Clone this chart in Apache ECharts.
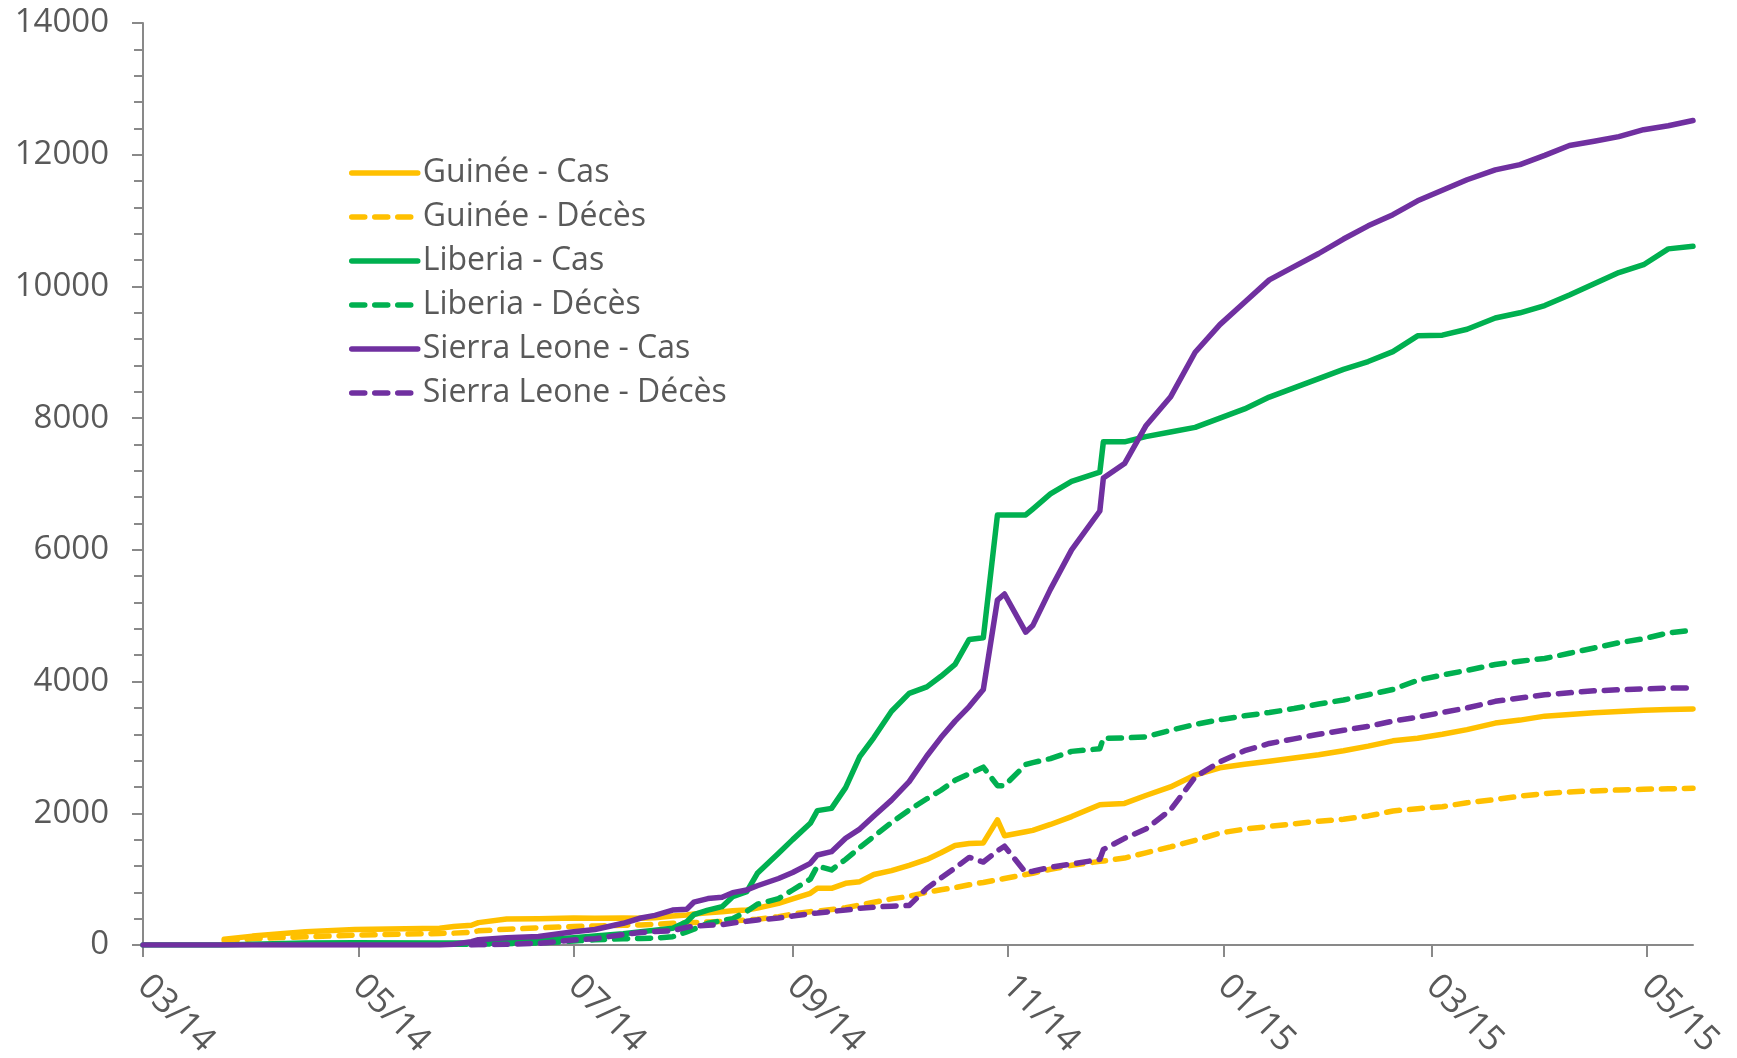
<!DOCTYPE html>
<html>
<head>
<meta charset="utf-8">
<script src="https://cdn.jsdelivr.net/npm/echarts@6/dist/echarts.min.js"></script>
<style>
html,body{margin:0;padding:0;background:#ffffff;}
#chart{width:1737px;height:1058px;}
</style>
</head>
<body>
<div id="chart"></div>
<script>
// ---- Data ----
const dates = [
 '2014-03-01','2014-03-24','2014-04-01','2014-04-16','2014-04-30','2014-05-24','2014-05-28','2014-06-02','2014-06-04','2014-06-12',
 '2014-06-21','2014-07-01','2014-07-07','2014-07-15','2014-07-20','2014-07-24','2014-07-29','2014-08-02','2014-08-04','2014-08-08',
 '2014-08-12','2014-08-15','2014-08-19','2014-08-22','2014-08-28','2014-09-01','2014-09-06','2014-09-08','2014-09-12','2014-09-16',
 '2014-09-20','2014-09-24','2014-09-29','2014-10-04','2014-10-09','2014-10-13','2014-10-17','2014-10-21','2014-10-25','2014-10-29',
 '2014-10-31','2014-11-06','2014-11-08','2014-11-13','2014-11-19','2014-11-27','2014-11-28','2014-12-04','2014-12-10','2014-12-17',
 '2014-12-24','2014-12-31','2015-01-07','2015-01-14','2015-01-21','2015-01-28','2015-02-04','2015-02-11','2015-02-18','2015-02-25',
 '2015-03-04','2015-03-11','2015-03-19','2015-03-26','2015-04-02','2015-04-09','2015-04-16','2015-04-23','2015-04-30','2015-05-07',
 '2015-05-14'
];

const guineeCas = [
 null,86,135,200,235,255,280,300,340,395,
 400,410,405,410,405,415,440,455,470,490,
 505,520,531,560,633,700,785,861,861,937,
 962,1070,1130,1210,1300,1400,1510,1540,1550,1900,
 1660,1720,1740,1830,1950,2130,2135,2150,2270,2400,
 2580,2690,2745,2790,2840,2890,2950,3020,3100,3140,
 3200,3270,3370,3415,3475,3500,3525,3545,3565,3575,
 3585
];

const guineeDeces = [
 null,60,95,125,150,175,180,195,215,240,
 260,280,290,300,305,315,329,335,340,350,
 360,370,380,390,430,470,506,515,540,565,
 607,650,700,740,800,840,870,915,950,990,
 1010,1070,1090,1150,1210,1270,1275,1320,1400,1490,
 1590,1700,1760,1800,1840,1880,1910,1960,2035,2070,
 2100,2160,2210,2260,2300,2325,2340,2355,2365,2372,
 2380
];

const liberiaCas = [
 0,0,10,30,35,30,30,35,40,50,
 76,110,137,170,202,225,255,354,460,530,
 582,733,810,1088,1392,1600,1848,2040,2075,2390,
 2860,3150,3550,3820,3920,4080,4260,4640,4665,6530,
 6530,6530,6620,6850,7040,7180,7640,7640,7720,7790,
 7860,8000,8140,8320,8460,8600,8740,8860,9010,9250,
 9260,9350,9520,9600,9710,9870,10040,10210,10330,10570,
 10610
];

const liberiaDeces = [
 null,null,null,null,null,null,10,12,15,20,
 30,60,80,95,100,105,125,200,240,330,
 370,400,510,620,705,835,1000,1200,1140,1300,
 1480,1650,1860,2050,2220,2350,2500,2600,2700,2420,
 2420,2740,2770,2830,2940,2980,3140,3145,3160,3260,
 3350,3420,3480,3530,3590,3660,3720,3800,3880,4020,
 4100,4170,4260,4310,4350,4430,4510,4590,4650,4740,
 4780
];

const sierraLeoneCas = [
 0,0,0,0,0,0,10,50,80,110,
 130,200,235,330,410,450,530,542,650,705,
 724,795,835,900,1010,1100,1240,1367,1417,1620,
 1760,1960,2200,2480,2870,3150,3400,3620,3880,5238,
 5330,4750,4850,5400,6000,6590,7090,7310,7880,8320,
 9000,9420,9760,10100,10300,10500,10720,10920,11090,11300,
 11460,11620,11770,11850,11990,12140,12205,12275,12380,12440,
 12520
];

const sierraLeoneDeces = [
 null,null,null,null,null,null,null,0,2,10,
 25,76,95,160,190,205,217,270,285,300,
 310,335,360,380,410,440,475,485,510,530,
 557,575,590,600,860,1017,1170,1330,1260,1430,
 1500,1100,1120,1180,1230,1300,1450,1620,1760,2050,
 2550,2780,2950,3060,3130,3200,3260,3320,3400,3460,
 3530,3600,3700,3750,3800,3830,3860,3875,3890,3900,
 3905
];

const seriesNames = ['Guinée - Cas','Guinée - Décès','Liberia - Cas','Liberia - Décès','Sierra Leone - Cas','Sierra Leone - Décès'];

const tickDates = ['2014-03-01','2014-05-01','2014-07-01','2014-09-01','2014-11-01','2015-01-01','2015-03-01','2015-05-01'];
const tickLabels = ['03/14','05/14','07/14','09/14','11/14','01/15','03/15','05/15'];
const axisStart = '2014-03-01';
const axisEnd = '2015-05-14';
const yMin = 0, yMax = 14000, yStep = 2000;

// ---- Build ----
function ts(s){ const p = s.split('-'); return new Date(+p[0], +p[1]-1, +p[2]).getTime(); }
const tickTs = tickDates.map(ts);
function pairs(vals){ return dates.map((d,i)=>[ts(d), vals[i]]); }

const COL_G = '#FFC000', COL_L = '#00B050', COL_S = '#7030A0';
const FONT = "'Open Sans', 'Liberation Sans', sans-serif";
const AXIS_COL = '#898989';
const DASH = [13, 10];
const LINE_W = 5.5;

const seriesStyles = [
  {color: COL_G, dashed: false},
  {color: COL_G, dashed: true},
  {color: COL_L, dashed: false},
  {color: COL_L, dashed: true},
  {color: COL_S, dashed: false},
  {color: COL_S, dashed: true}
];
const seriesValues = [guineeCas, guineeDeces, liberiaCas, liberiaDeces, sierraLeoneCas, sierraLeoneDeces];

function mk(i){
  const st = seriesStyles[i];
  return {
    name: seriesNames[i], type: 'line', data: pairs(seriesValues[i]),
    symbol: 'none', showSymbol: false, connectNulls: false,
    itemStyle: {color: st.color},
    lineStyle: {color: st.color, width: LINE_W, type: st.dashed ? DASH : 'solid', cap: 'round', join: 'round'},
    emphasis: {disabled: true},
    animation: false
  };
}

const chart = echarts.init(document.getElementById('chart'), null, {renderer: 'canvas'});
chart.setOption({
  backgroundColor: '#ffffff',
  animation: false,
  grid: {left: 143, right: 44, top: 23, bottom: 113, containLabel: false, outerBoundsMode: 'none'},
  legend: {
    orient: 'vertical', left: 344, top: 148,
    itemWidth: 66, itemHeight: 14, itemGap: 4,
    data: seriesNames.map((n,i)=>({
      name: n,
      itemStyle: {opacity: 0},
      lineStyle: {color: seriesStyles[i].color, width: LINE_W, type: seriesStyles[i].dashed ? DASH : 'solid', cap: 'round'}
    })),
    itemStyle: {opacity: 0},
    textStyle: {fontSize: 32, lineHeight: 40, color: '#595959', fontFamily: FONT},
    selectedMode: false
  },
  xAxis: {
    type: 'value', min: ts(axisStart), max: ts(axisEnd), scale: true,
    axisLine: {show: true, onZero: false, lineStyle: {color: AXIS_COL, width: 2}},
    axisTick: {show: true, length: 12, lineStyle: {color: AXIS_COL, width: 2}, customValues: tickTs},
    axisLabel: {
      customValues: tickTs, rotate: -45, margin: 36,
      color: '#595959', fontSize: 35, fontFamily: FONT,
      formatter: function(v){
        let best = 0, bd = Infinity;
        tickTs.forEach((t,i)=>{ const d = Math.abs(t - v); if (d < bd){ bd = d; best = i; } });
        return tickLabels[best];
      }
    },
    splitLine: {show: false}
  },
  yAxis: {
    type: 'value', min: yMin, max: yMax, interval: yStep,
    axisLine: {show: true, lineStyle: {color: AXIS_COL, width: 2}},
    axisTick: {show: true, length: 11, lineStyle: {color: AXIS_COL, width: 2}},
    minorTick: {show: true, splitNumber: 5, length: 9, lineStyle: {color: AXIS_COL, width: 2}},
    splitLine: {show: false},
    minorSplitLine: {show: false},
    axisLabel: {margin: 34, color: '#595959', fontSize: 33, fontFamily: FONT, formatter: function(v){ return String(v); }}
  },
  series: seriesNames.map((n,i)=>mk(i))
});
</script>
</body>
</html>
